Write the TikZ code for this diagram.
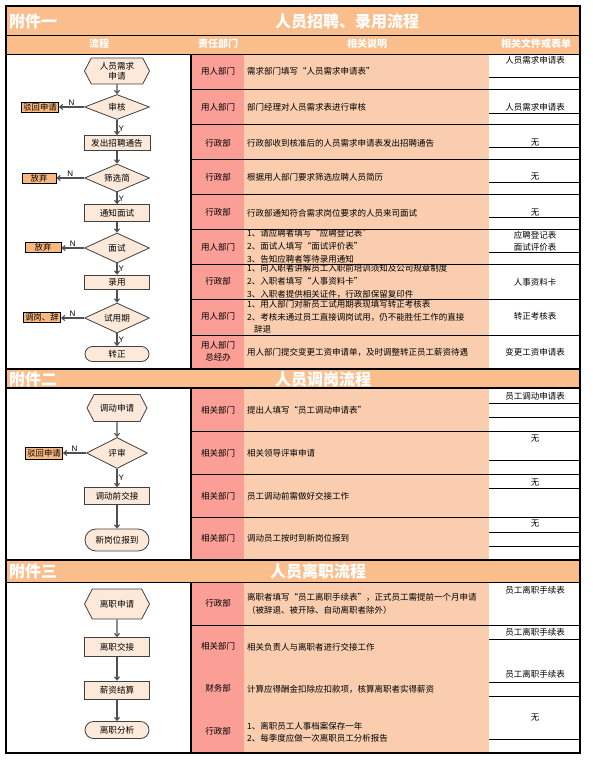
\documentclass[tikz,border=0pt]{standalone}
\usepackage{fontspec}
\setmainfont{Noto Sans CJK SC}
\newfontfamily\latinsans{Liberation Sans}
\usetikzlibrary{arrows.meta,shapes.geometric,shapes.symbols,shapes.misc}
\definecolor{headfill}{HTML}{F9BE8C}
\definecolor{deptfill}{HTML}{FA9E96}
\definecolor{descfill}{HTML}{F9CDAE}
\definecolor{nodefill}{HTML}{FDE9D9}
\definecolor{sidefill}{HTML}{F9B880}
\definecolor{nodeedge}{HTML}{404040}
\definecolor{arrowgray}{HTML}{505050}
\tikzset{
  rowline/.style={black, line width=0.8pt},
  heavyline/.style={black, line width=1.6pt},
  titletxt/.style={text=white, font=\bfseries\fontsize{16}{18}\selectfont, inner sep=0pt},
  colhead/.style={text=white, font=\bfseries\fontsize{10}{12}\selectfont, inner sep=0pt},
  dept/.style={font=\fontsize{8.5}{12}\selectfont, inner sep=0pt, align=center},
  desc/.style={anchor=west, font=\fontsize{8.5}{10}\selectfont, inner sep=0pt},
  form/.style={font=\fontsize{8.5}{10}\selectfont, inner sep=0pt},
  flowtxt/.style={font=\fontsize{8.6}{10}\selectfont, align=center},
  hexnode/.style={flowtxt, shape=signal, signal to=west and east, signal pointer angle=125,
     draw=nodeedge, fill=nodefill, line width=0.8pt, inner sep=1pt},
  proc/.style={flowtxt, rectangle, draw=nodeedge, fill=nodefill, line width=0.8pt,
     minimum width=65pt, inner sep=0pt},
  dec/.style={flowtxt, diamond, aspect=2.5, draw=nodeedge, fill=nodefill, line width=0.8pt,
     minimum width=65pt, inner sep=0pt},
  term/.style={flowtxt, rounded rectangle, draw=nodeedge, fill=nodefill, line width=0.8pt,
     minimum width=64pt, inner sep=0pt},
  side/.style={rectangle, draw=black, fill=sidefill, line width=0.8pt, minimum width=37pt,
     minimum height=10pt, inner sep=0.5pt, font=\fontsize{8.3}{9}\selectfont},
  arr/.style={draw=arrowgray, line width=1.1pt, -{Straight Barb[length=3pt,width=5pt]}},
  lbl/.style={font=\latinsans\fontsize{8}{9}\selectfont, text=black, inner sep=1pt},
}
\begin{document}
\begin{tikzpicture}[x=1pt,y=-1pt]
\useasboundingbox (0,0) rectangle (593,760);
\fill[white] (0,0) rectangle (593,760);
% ---------- backgrounds ----------
\fill[headfill] (6,6) rectangle (580,54);
\fill[headfill] (6,369) rectangle (580,388);
\fill[headfill] (6,560) rectangle (580,582);
\fill[deptfill] (191,54) rectangle (244,369);
\fill[deptfill] (191,388) rectangle (244,559);
\fill[deptfill] (191,582) rectangle (244,753);
\fill[descfill] (244,54) rectangle (489,369);
\fill[descfill] (244,388) rectangle (489,559);
\fill[descfill] (244,582) rectangle (489,753);
% ---------- table lines ----------
\draw[rowline] (6,35) -- (580,35);
\draw[rowline] (6,54) -- (580,54);
\draw[heavyline] (6,369) -- (580,369);
\draw[heavyline] (6,388) -- (580,388);
\draw[heavyline] (6,560) -- (580,560);
\draw[rowline] (6,582) -- (580,582);
\foreach \y in {89,124,159,194,229,264,299,335,431,474,517,625}
  \draw[rowline] (191,\y) -- (580,\y);
\foreach \y in {77,113,147,182,217,252,403,417,460,488,532,546,639,682,696,739}
  \draw[rowline] (489,\y) -- (580,\y);
\draw[heavyline] (191,54) -- (191,369);
\draw[heavyline] (191,388) -- (191,559);
\draw[heavyline] (191,582) -- (191,753);
\draw[heavyline] (6,6) rectangle (580,753);
% ---------- titles ----------
\node[titletxt, anchor=west] (ta1) at (9,21) {附件一};
\node[titletxt, anchor=west] (tb1) at (275,21) {人员招聘、录用流程};
\node[titletxt, anchor=west] (ta2) at (9,379) {附件二};
\node[titletxt, anchor=west] (tb2) at (275,379) {人员调岗流程};
\node[titletxt, anchor=west] (ta3) at (9,571) {附件三};
\node[titletxt, anchor=west] (tb3) at (270,571) {人员离职流程};
\node[colhead] (ch1) at (99,44) {流程};
\node[colhead] (ch2) at (218,44) {责任部门};
\node[colhead] (ch3) at (367,44) {相关说明};
\node[colhead] (ch4) at (536,44) {相关文件或表单};
% ---------- departments ----------
\foreach \y/\t [count=\i] in {71/用人部门,107/用人部门,143/行政部,177/行政部,212/行政部,
   247/用人部门,281/行政部,316/用人部门,351/{用人部门\\总经办},
   410/相关部门,453/相关部门,496/相关部门,538/相关部门,
   603/行政部,646/相关部门,688/财务部,731/行政部}
  \node[dept] (dep\i) at (218,\y) {\t};
% ---------- forms ----------
\foreach \y/\t [count=\i] in {60/人员需求申请表,107/人员需求申请表,143/无,177/无,213/无,
   235/应聘登记表,247/面试评价表,282/人事资料卡,316/转正考核表,352/变更工资申请表,
   396/员工调动申请表,439/无,483/无,524/无,
   590/员工离职手续表,632/员工离职手续表,674/员工离职手续表,718/无}
  \node[form] (frm\i) at (535,\y) {\t};
% ---------- descriptions ----------
\node[desc] (ds1) at (247,71) {需求部门填写“人员需求申请表”};
\node[desc] (ds2) at (247,107) {部门经理对人员需求表进行审核};
\node[desc] (ds3) at (247,143) {行政部收到核准后的人员需求申请表发出招聘通告};
\node[desc] (ds4) at (247,177) {根据用人部门要求筛选应聘人员简历};
\node[desc] (ds5) at (247,213) {行政部通知符合需求岗位要求的人员来司面试};
\node[desc] (ds6a) at (247,233) {1、请应聘者填写“应聘登记表”};
\node[desc] (ds6b) at (247,246) {2、面试人填写“面试评价表”};
\node[desc] (ds6c) at (247,259) {3、告知应聘者等待录用通知};
\node[desc] (ds7a) at (247,268) {1、向入职者讲解员工入职前培训须知及公司规章制度};
\node[desc] (ds7b) at (247,281) {2、入职者填写“人事资料卡”};
\node[desc] (ds7c) at (247,294) {3、入职者提供相关证件，行政部保留复印件};
\node[desc] (ds8a) at (247,304) {1、用人部门对新员工试用期表现填写转正考核表};
\node[desc] (ds8b) at (247,317) {2、考核未通过员工直接调岗试用，仍不能胜任工作的直接};
\node[desc] (ds8c) at (254,329) {辞退};
\node[desc] (ds9) at (247,352) {用人部门提交变更工资申请单，及时调整转正员工薪资待遇};
\node[desc] (ds10) at (247,410) {提出人填写“员工调动申请表”};
\node[desc] (ds11) at (247,453) {相关领导评审申请};
\node[desc] (ds12) at (247,496) {员工调动前需做好交接工作};
\node[desc] (ds13) at (247,538) {调动员工按时到新岗位报到};
\node[desc] (ds14a) at (247,597) {离职者填写“员工离职手续表”，正式员工需提前一个月申请};
\node[desc] (ds14b) at (247,610) {（被辞退、被开除、自动离职者除外）};
\node[desc] (ds15) at (247,647) {相关负责人与离职者进行交接工作};
\node[desc] (ds16) at (247,689) {计算应得酬金扣除应扣款项，核算离职者实得薪资};
\node[desc] (ds17a) at (247,726) {1、离职员工人事档案保存一年};
\node[desc] (ds17b) at (247,738) {2、每季度应做一次离职员工分析报告};
% ---------- flow 1 ----------
\node[hexnode, minimum width=65pt, minimum height=26pt] (h1) at (117,71) {人员需求\\申请};
\node[dec, minimum height=25pt] (d1) at (117,107) {审核};
\node[side] (r1) at (40,107) {驳回申请};
\node[proc, minimum height=15pt, minimum width=66pt] (p1) at (117,143) {发出招聘通告};
\node[dec, minimum height=28pt] (d2) at (117,178) {筛选简};
\node[side, minimum width=34pt] (r2) at (39,178) {放弃};
\node[proc, minimum height=17pt] (p2) at (117,213) {通知面试};
\node[dec, minimum height=30pt] (d3) at (117,248) {面试};
\node[side, minimum width=36pt] (r3) at (43,247) {放弃};
\node[proc, minimum height=14pt] (p3) at (117,282) {录用};
\node[dec, minimum height=30pt] (d4) at (117,318) {试用期};
\node[side] (r4) at (42,317) {调岗、辞};
\node[term, minimum height=15pt] (t1) at (117,354) {转正};
\draw[arr] (h1) -- (d1);
\draw[arr] (d1) -- node[lbl, right, pos=0.55] {Y} (p1);
\draw[arr] (d1.west) -- node[lbl, above] {N} (r1.east);
\draw[arr] (p1) -- (d2);
\draw[arr] (d2) -- node[lbl, right, pos=0.5] {Y} (p2);
\draw[arr] (d2.west) -- node[lbl, above] {N} (d2.west -| r2.east);
\draw[arr] (p2) -- (d3);
\draw[arr] (d3) -- node[lbl, right, pos=0.5] {Y} (p3);
\draw[arr] (d3.west) -- node[lbl, above] {N} (d3.west -| r3.east);
\draw[arr] (p3) -- (d4);
\draw[arr] (d4) -- node[lbl, right, pos=0.5] {Y} (t1);
\draw[arr] (d4.west) -- node[lbl, above] {N} (d4.west -| r4.east);
% ---------- flow 2 ----------
\node[hexnode, minimum width=60pt, minimum height=27pt] (h2) at (117,408) {调动申请};
\node[dec, minimum width=61pt, minimum height=31pt] (d5) at (117,453) {评审};
\node[side, minimum height=12pt] (r5) at (44,453) {驳回申请};
\node[proc, minimum height=17pt] (p4) at (117,496) {调动前交接};
\node[term, minimum height=22pt] (t2) at (117,540) {新岗位报到};
\draw[arr] (h2) -- (d5);
\draw[arr] (d5.west) -- node[lbl, above] {N} (r5.east);
\draw[arr] (d5) -- node[lbl, right, pos=0.5] {Y} (p4);
\draw[arr] (p4) -- (t2);
% ---------- flow 3 ----------
\node[hexnode, minimum width=65pt, minimum height=30pt] (h3) at (117,604) {离职申请};
\node[proc, minimum height=19pt] (p5) at (117,647) {离职交接};
\node[proc, minimum height=18pt] (p6) at (117,690) {薪资结算};
\node[term, minimum height=17pt] (t3) at (117,730) {离职分析};
\draw[arr] (h3) -- (p5);
\draw[arr] (p5) -- (p6);
\draw[arr] (p6) -- (t3);
\end{tikzpicture}
\end{document}
